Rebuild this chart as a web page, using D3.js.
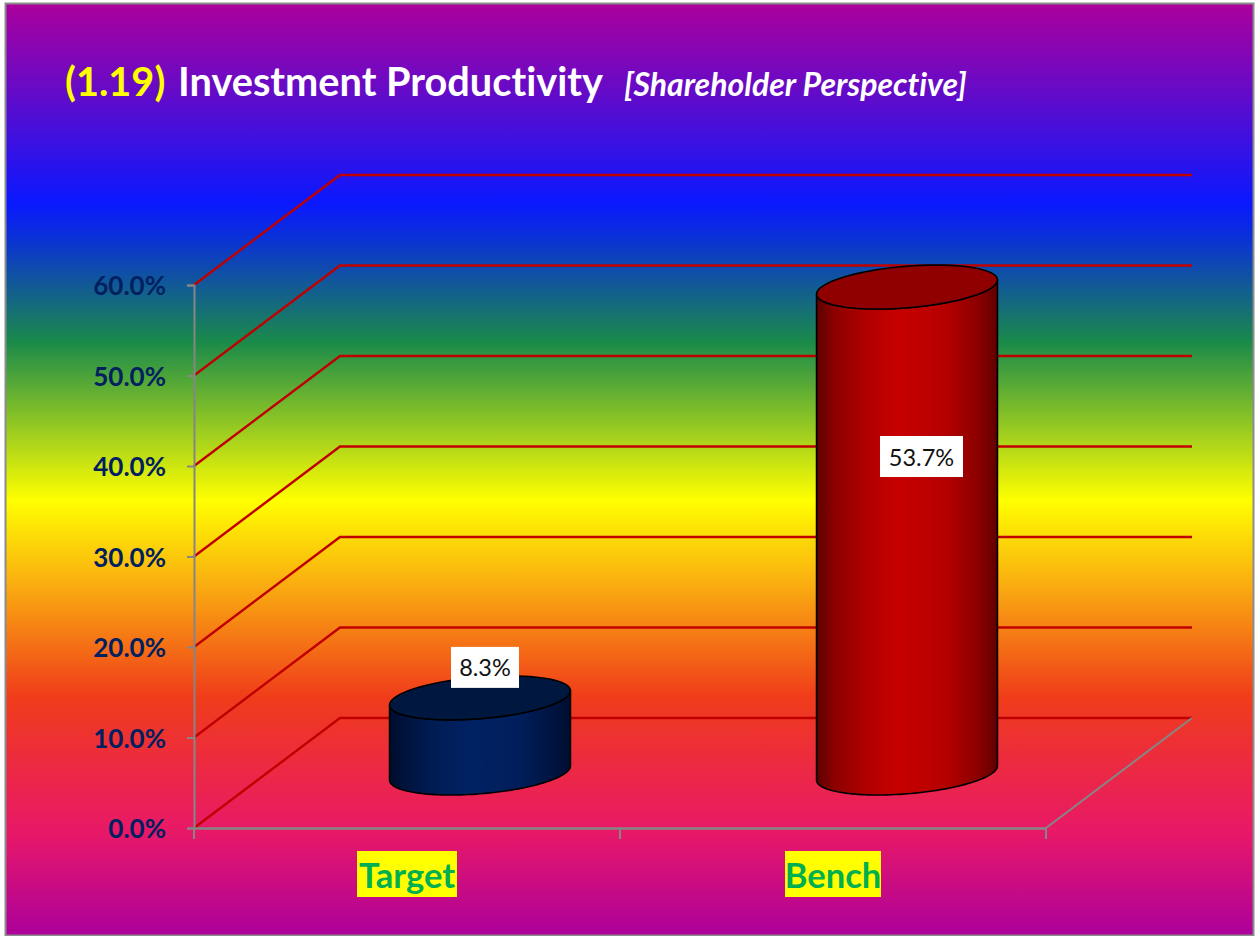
<!DOCTYPE html>
<html><head><meta charset="utf-8">
<script src="https://cdn.jsdelivr.net/npm/d3@7"></script>
<style>html,body{margin:0;padding:0;background:#fff}svg{display:block}text{font-variant-ligatures:none}</style>
</head><body><div id="chart"></div>
<script>
const categories = ["Target", "Bench"];
const values = [8.3, 53.7];
const valueLabels = ["8.3%", "53.7%"];
const yTicks = [0, 10, 20, 30, 40, 50, 60];
const titleParts = ["(1.19)", "Investment Productivity", "[Shareholder Perspective]"];
const bgStops = [[0,"#ac009c"],[0.214,"#0a18ff"],[0.25,"#0a30d8"],[0.363,"#1a8a4a"],[0.533,"#ffff00"],[0.62,"#fab010"],[0.744,"#f03c1a"],[0.89,"#e81868"],[1,"#ac009c"]];
const blueStops = [[0,"#000c2c"],[0.1,"#001440"],[0.25,"#001c54"],[0.45,"#002264"],[0.72,"#001e5a"],[0.9,"#001440"],[1,"#000e30"]];
const redStops = [[0,"#5c0000"],[0.1,"#8c0000"],[0.25,"#ac0000"],[0.45,"#c80000"],[0.72,"#b40000"],[0.9,"#8a0000"],[1,"#600000"]];

const W = 1255, H = 936;
const svg = d3.select("#chart").append("svg").attr("width", W).attr("height", H);
const defs = svg.append("defs");
function grad(id, stops, vertical){
  const g = defs.append("linearGradient").attr("id", id)
    .attr("x1",0).attr("y1",0).attr("x2",vertical?0:1).attr("y2",vertical?1:0);
  stops.forEach(s => g.append("stop").attr("offset", s[0]).attr("stop-color", s[1]));
}
grad("bg", bgStops, true); grad("side0", blueStops, false); grad("side1", redStops, false);

svg.append("rect").attr("x",5.5).attr("y",3.5).attr("width",1248).attr("height",932)
  .attr("fill","url(#bg)").attr("stroke","#8c8c8c").attr("stroke-width",2);

// title
const title = svg.append("text").attr("x",65).attr("y",96)
  .attr("font-family","Lato, Carlito, sans-serif").attr("font-weight","bold").attr("font-size",39.7);
title.append("tspan").attr("fill","#ffff00").text(titleParts[0]);
title.append("tspan").attr("fill","#fff").attr("x",178).text(titleParts[1]);
title.append("tspan").attr("fill","#fff").attr("x",624).attr("font-size",32).attr("font-style","italic").text(titleParts[2]);

// scales
const x = d3.scaleBand().domain(categories).range([194,1046]).paddingInner(0).paddingOuter(0);
const y = d3.scaleLinear().domain([0,60]).range([828,285]);
const depthX = 146, depthY = -110;

// grid
const line = d3.line();
svg.append("g").selectAll("path").data(yTicks).join("path")
  .attr("fill","none").attr("stroke","#c00000").attr("stroke-width",2.4)
  .attr("d", t => line([[x.range()[0],y(t)],[x.range()[0]+depthX,y(t)+depthY],[x.range()[1]+depthX,y(t)+depthY]]));

// axes
const axisColor = "#868686";
const yAxis = svg.append("g").attr("transform",`translate(${x.range()[0]},0)`)
  .call(d3.axisLeft(y).tickValues(yTicks).tickSize(7).tickPadding(21).tickFormat(d => d3.format(".1f")(d)+"%"));
yAxis.selectAll("path,line").attr("stroke",axisColor).attr("stroke-width",2);
yAxis.selectAll("text").attr("fill","#002060").attr("font-family","Lato, Carlito, sans-serif")
  .attr("font-weight","bold").attr("font-size",26).attr("dy","0.38em");
const xAxis = svg.append("g").attr("transform",`translate(0,${y(0)})`)
  .call(d3.axisBottom(x).tickValues([]).tickSize(0));
xAxis.select("path").attr("stroke",axisColor).attr("stroke-width",2.4);
svg.append("g").selectAll("line").data([x.range()[0], x.range()[0]+x.bandwidth(), x.range()[1]]).join("line")
  .attr("x1",d=>d).attr("x2",d=>d).attr("y1",y(0)).attr("y2",y(0)+11).attr("stroke",axisColor).attr("stroke-width",2);
svg.append("path").attr("fill","none").attr("stroke",axisColor).attr("stroke-width",2)
  .attr("d", line([[x.range()[1],y(0)],[x.range()[1]+depthX,y(0)+depthY]]));

// cylinders: round base set in the floor plane, seen through the chart's oblique projection
const A = 85.6, B = 29.2, C = 22;
const cylNudge = {Target: 0, Bench: 1};
const cx = c => x(c) + x.bandwidth()/2 + depthX/2 + cylNudge[c];
const baseY = y(0) + depthY/2;
const unit = yPx => yPx - y(0);
function rim(c, v, t0, t1){
  const n = 72, pts = [];
  for(let i=0;i<=n;i++){
    const t = t0 + (t1-t0)*i/n;
    pts.push([cx(c)+A*Math.cos(t)+B*Math.sin(t), baseY+unit(y(v))-C*Math.sin(t)]);
  }
  return pts;
}
const tR = Math.atan2(B,A);         // parameter of the right-most rim point
const cyl = svg.append("g").selectAll("g").data(categories).join("g");
cyl.append("path")
  .attr("fill",(c,i)=>`url(#side${i})`).attr("stroke","#000").attr("stroke-width",1.6).attr("stroke-linejoin","round")
  .attr("d",(c,i)=>{
    const top = rim(c,values[i],tR+Math.PI,tR+2*Math.PI);      // left -> front -> right, along the top rim
    const bottom = rim(c,0,tR+2*Math.PI,tR+Math.PI);           // right -> front -> left, along the base rim
    return line(top.concat(bottom))+"Z";
  });
cyl.append("path")
  .attr("fill",(c,i)=>i?"#900000":"#001840").attr("stroke","#000").attr("stroke-width",1.6)
  .attr("d",(c,i)=>line(rim(c,values[i],0,2*Math.PI))+"Z");

// data labels
const labelBoxes = [{dx:5,dy:-30.5,w:68},{dx:14.5,dy:169.5,w:83}];
const lab = svg.append("g").selectAll("g").data(categories).join("g")
  .attr("transform",(c,i)=>`translate(${cx(c)-labelBoxes[i].w/2+labelBoxes[i].dx},${baseY+unit(y(values[i]))+labelBoxes[i].dy-20.5})`);
lab.append("rect").attr("width",(c,i)=>labelBoxes[i].w).attr("height",41).attr("fill","#fff");
lab.append("text").attr("x",(c,i)=>labelBoxes[i].w/2).attr("y",29.5).attr("text-anchor","middle")
  .attr("font-family","Lato, Carlito, sans-serif").attr("font-size",23.5).attr("fill","#111")
  .text((c,i)=>valueLabels[i]);

// category labels
const catW = [100, 96];
const cat = svg.append("g").selectAll("g").data(categories).join("g")
  .attr("transform",c=>`translate(${x(c)+x.bandwidth()/2},0)`);
cat.append("rect").attr("x",(c,i)=>-catW[i]/2).attr("y",851).attr("width",(c,i)=>catW[i]).attr("height",46).attr("fill","#ffff00");
cat.append("text").attr("y",888).attr("text-anchor","middle")
  .attr("font-family","Lato, Carlito, sans-serif").attr("font-weight","bold").attr("font-size",34.5).attr("fill","#00b050").text(c=>c);
</script></body></html>
